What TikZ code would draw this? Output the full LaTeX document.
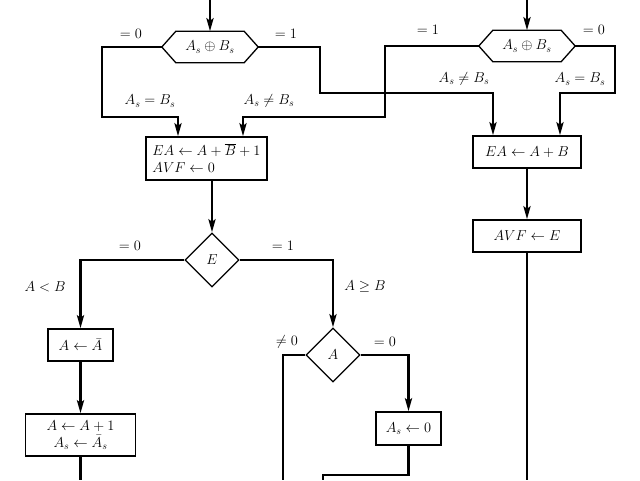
\documentclass[tikz,border=0pt]{standalone}
\usetikzlibrary{arrows.meta,shapes.geometric}
\tikzset{
  every node/.style={font=\fontsize{14}{17}\selectfont},
  arr/.style={line width=2.6pt, line join=miter, -{Stealth[length=13pt,width=7pt,inset=2.5pt]}},
  ln/.style={line width=2.6pt, line join=miter},
  boxn/.style={draw, line width=1.3pt, rectangle, inner sep=0pt, align=center},
  hexn/.style={inner sep=0pt, minimum width=96pt, minimum height=31pt},
  hexline/.style={line width=1.3pt, line join=miter},
  dia/.style={draw, line width=1.3pt, diamond, aspect=1, inner sep=0pt, minimum width=54pt, minimum height=54pt},
  lbl/.style={inner sep=0pt}
}
\begin{document}
\begin{tikzpicture}[x=1pt,y=-1pt]
\useasboundingbox (0,0) rectangle (640,480);
% hexagons
\node[hexn] (h1) at (210,47) {$A_s\oplus B_s$};
\draw[hexline] (h1.west) -- ([xshift=14pt]h1.north west) -- ([xshift=-14pt]h1.north east) -- (h1.east) -- ([xshift=-14pt]h1.south east) -- ([xshift=14pt]h1.south west) -- cycle;
\node[hexn] (h2) at (527,46) {$A_s\oplus B_s$};
\draw[hexline] (h2.west) -- ([xshift=14pt]h2.north west) -- ([xshift=-14pt]h2.north east) -- (h2.east) -- ([xshift=-14pt]h2.south east) -- ([xshift=14pt]h2.south west) -- cycle;
% boxes
\node[boxn, minimum width=121pt, minimum height=43pt, align=left] (L1) at (206.5,158.5) {$EA\leftarrow A+\overline{B}+1$\\$AVF\leftarrow 0$};
\node[boxn, minimum width=108pt, minimum height=32pt] (R1) at (527,152) {$EA\leftarrow A+B$};
\node[boxn, minimum width=108pt, minimum height=32pt] (R2) at (527,236) {$AVF\leftarrow E$};
\node[dia] (dE) at (212,260) {$E$};
\node[boxn, minimum width=65pt, minimum height=32pt] (B1) at (80.5,345) {$A\leftarrow\bar{A}$};
\node[boxn, minimum width=110pt, minimum height=42pt] (B2) at (80.5,435) {$A\leftarrow A+1$\\$A_s\leftarrow\bar{A}_s$};
\node[dia] (dA) at (333,355) {$A$};
\node[boxn, minimum width=65pt, minimum height=33pt] (B3) at (408.5,428.5) {$A_s\leftarrow 0$};
% coordinates
\coordinate (t1) at (210,0);
\coordinate (t2) at (527,0);
\coordinate (p1) at (102,117); \coordinate (q1) at (178,117);
\coordinate (p2) at (320,93);  \coordinate (q2) at (493,93);
\coordinate (p3) at (385,117); \coordinate (q3) at (243,117);
\coordinate (p4) at (615,93);  \coordinate (q4) at (560,93);
\coordinate (bR) at (527,480);
\coordinate (bL) at (80.5,480);
\coordinate (pA) at (283,480);
\coordinate (m2) at (323,475); \coordinate (bM) at (323,480);
% connectors
\draw[arr] (t1) -- (h1.north);
\draw[arr] (t2) -- (h2.north);
\draw[arr] (h1.west) -| (p1) -- (q1) -- (q1 |- L1.north);
\draw[arr] (h1.east) -| (p2) -- (q2) -- (q2 |- R1.north);
\draw[arr] (h2.west) -| (p3) -- (q3) -- (q3 |- L1.north);
\draw[arr] (h2.east) -| (p4) -- (q4) -- (q4 |- R1.north);
\draw[arr] (L1.south -| dE.north) -- (dE.north);
\draw[arr] (R1.south) -- (R2.north);
\draw[ln] (R2.south) -- (bR);
\draw[arr] (dE.west) -| (B1.north);
\draw[arr] (dE.east) -| (dA.north);
\draw[arr] (B1.south) -- (B2.north);
\draw[ln] (B2.south) -- (bL);
\draw[ln] (dA.west) -| (pA);
\draw[arr] (dA.east) -| (B3.north);
\draw[ln] (B3.south) |- (m2) -- (bM);
% labels
\node[lbl] (a1) at (131,34) {${=}\;0$};
\node[lbl] (a2) at (286,34) {${=}\;1$};
\node[lbl] (a3) at (150,101) {$A_s=B_s$};
\node[lbl] (a4) at (269,101) {$A_s\neq B_s$};
\node[lbl] (a5) at (428,30) {${=}\;1$};
\node[lbl] (a6) at (594,30) {${=}\;0$};
\node[lbl] (a7) at (464,79) {$A_s\neq B_s$};
\node[lbl] (a8) at (580,79) {$A_s=B_s$};
\node[lbl] (a9) at (130,246) {${=}\;0$};
\node[lbl] (a10) at (283,246) {${=}\;1$};
\node[lbl] (a11) at (45,287) {$A<B$};
\node[lbl] (a12) at (365,287) {$A\geq B$};
\node[lbl] (a13) at (287,342) {${\neq}\;0$};
\node[lbl] (a14) at (385,342) {${=}\;0$};
\end{tikzpicture}
\end{document}
